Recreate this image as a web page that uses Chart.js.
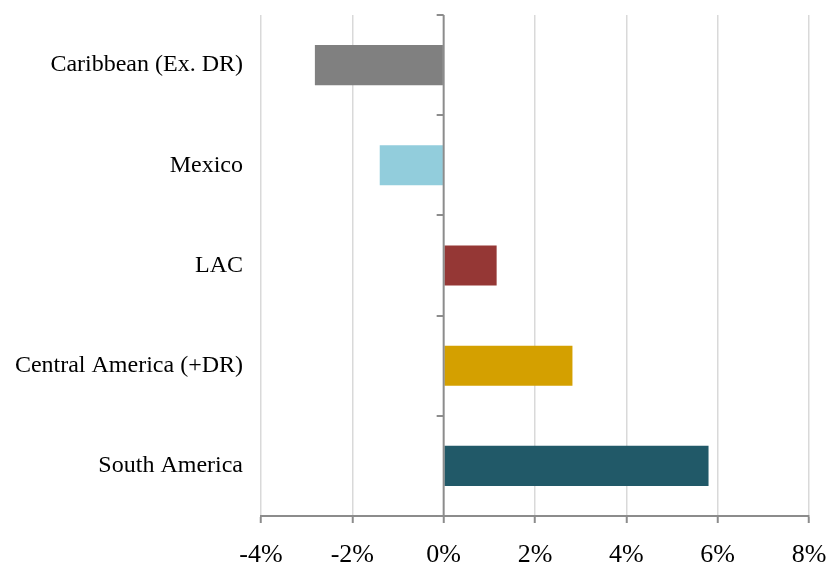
<!DOCTYPE html>
<html>
<head>
<meta charset="utf-8">
<script src="https://cdn.jsdelivr.net/npm/chart.js@4"></script>
<style>
  html, body { margin: 0; padding: 0; background: #fff; }
  #wrap { width: 826px; height: 566px; }
</style>
</head>
<body>
<div id="wrap"><canvas id="growth-chart" width="826" height="566"></canvas></div>
<script>
  const regions = ['Caribbean (Ex. DR)', 'Mexico', 'LAC', 'Central America (+DR)', 'South America'];
  const growth = [-2.82, -1.40, 1.16, 2.82, 5.80];
  const barColors = ['#808080', '#92cddc', '#953735', '#d4a000', '#215968'];
  const xTicks = [-4, -2, 0, 2, 4, 6, 8];

  const AXIS_GRAY = '#8c8c8c';
  const SERIF = "'Liberation Serif', 'DejaVu Serif', serif";

  // small tick marks on the zero line between the categories
  const zeroLineTicks = {
    id: 'zeroLineTicks',
    afterDatasetsDraw(chart) {
      const { ctx, scales: { x, y } } = chart;
      const x0 = x.getPixelForValue(0);
      ctx.save();
      ctx.strokeStyle = AXIS_GRAY;
      ctx.lineWidth = 2;
      ctx.beginPath();
      ctx.moveTo(x0, y.top);
      ctx.lineTo(x0, y.bottom);
      for (let i = 0; i <= regions.length; i++) {
        const py = Math.round(y.getPixelForValue(i - 0.5));
        ctx.moveTo(x0 - 7, py);
        ctx.lineTo(x0, py);
      }
      ctx.stroke();
      ctx.restore();
    },
  };

  new Chart(document.getElementById('growth-chart'), {
    type: 'bar',
    data: {
      labels: regions,
      datasets: [{
        data: growth,
        backgroundColor: barColors,
        borderWidth: 0,
        barPercentage: 0.4,
        categoryPercentage: 1,
      }],
    },
    options: {
      indexAxis: 'y',
      responsive: false,
      animation: false,
      layout: { padding: { top: 15, right: 17 } },
      plugins: {
        legend: { display: false },
        tooltip: { enabled: false },
      },
      scales: {
        x: {
          min: xTicks[0],
          max: xTicks[xTicks.length - 1],
          afterBuildTicks: axis => { axis.ticks = xTicks.map(v => ({ value: v })); },
          afterFit: axis => {
            axis.height = 50;
            axis.paddingLeft = 0;
            axis.paddingRight = 0;
          },
          grid: {
            color: ctx => (ctx.tick && ctx.tick.value === 0 ? 'rgba(0,0,0,0)' : '#d9d9d9'),
            lineWidth: 1.5,
            tickLength: 7,
            tickColor: AXIS_GRAY,
            tickWidth: 2,
          },
          border: { color: AXIS_GRAY, width: 2 },
          ticks: {
            color: '#000',
            padding: 17,
            font: { family: SERIF, size: 26 },
            callback: v => v + '%',
          },
        },
        y: {
          afterFit: axis => {
            axis.width = 261;
            axis.paddingTop = 0;
            axis.paddingBottom = 0;
          },
          grid: { display: false, drawTicks: false },
          border: { display: false },
          ticks: {
            color: '#000',
            padding: 18,
            font: { family: SERIF, size: 24 },
          },
        },
      },
    },
    plugins: [zeroLineTicks],
  });
</script>
</body>
</html>
